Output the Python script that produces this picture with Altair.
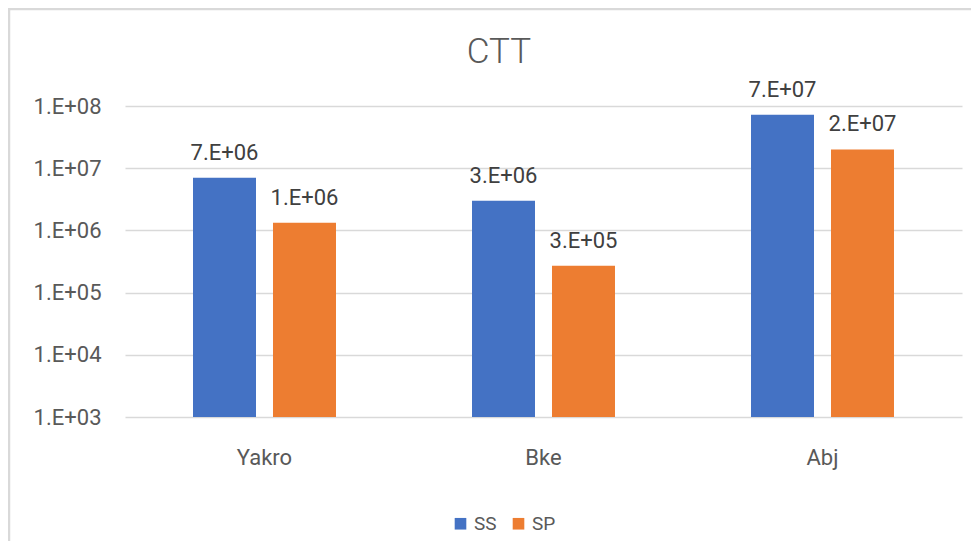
import altair as alt
import pandas as pd

sites = ["Yakro", "Bke", "Abj"]
series = ["SS", "SP"]
ss_values = [7.0e6, 3.0e6, 7.2e7]
sp_values = [1.33e6, 2.7e5, 2.0e7]
y_ticks = [1e3, 1e4, 1e5, 1e6, 1e7, 1e8]
colors = ["#4472C4", "#ED7D31"]

FONT = "Roboto, sans-serif"
TXT = "#595959"


def sci_label(v):
    m, e = f"{v:.0e}".split("e")
    return f"{m}.E{e[0]}{int(e[1:]):02d}"


rows = []
for i, s in enumerate(sites):
    for name, vals in zip(series, [ss_values, sp_values]):
        rows.append({"site": s, "series": name, "value": vals[i], "label": sci_label(vals[i])})
df = pd.DataFrame(rows)

x_enc = alt.X(
    "site:N",
    sort=sites,
    scale=alt.Scale(paddingInner=0.4875, paddingOuter=0.24375),
    axis=alt.Axis(
        title=None, labelAngle=0, ticks=False, tickSize=0, domain=False,
        labelPadding=47, labelBaseline="alphabetic", labelFontSize=22,
        labelColor=TXT, labelFont=FONT,
    ),
)
xo_enc = alt.XOffset("series:N", sort=series, scale=alt.Scale(paddingInner=0.2125, paddingOuter=0))
y_enc = alt.Y(
    "value:Q",
    scale=alt.Scale(type="log", domain=[1e3, 1e8], nice=False),
    axis=alt.Axis(
        title=None, grid=True, gridColor="#d9d9d9", gridWidth=1.5, domain=False,
        ticks=False, tickSize=0, labelPadding=24, values=y_ticks,
        labelExpr="'1.E+' + format(round(log(datum.value)/LN10), '02d')",
        labelFontSize=22, labelColor=TXT, labelFont=FONT,
    ),
)

base = alt.Chart(df)
bars = base.mark_bar().encode(
    x=x_enc,
    xOffset=xo_enc,
    y=y_enc,
    y2=alt.datum(1000),
    color=alt.Color(
        "series:N",
        sort=series,
        scale=alt.Scale(domain=series, range=colors),
        legend=alt.Legend(
            title=None, orient="none", legendX=326, legendY=408, direction="horizontal",
            symbolType="square", symbolSize=135, symbolStrokeWidth=0,
            labelFontSize=19, labelFont=FONT, labelColor=TXT, labelOffset=4,
            columnPadding=12, padding=0,
        ),
    ),
)
labels = base.mark_text(baseline="alphabetic", dy=-18, fontSize=22, color="#404040", font=FONT).encode(
    x=alt.X("site:N", sort=sites),
    xOffset=alt.XOffset("series:N", sort=series),
    y=alt.Y("value:Q"),
    text="label:N",
)

border = alt.Chart(pd.DataFrame({"a": [0]})).mark_rect(
    fillOpacity=0, stroke="#d9d9d9", strokeWidth=2.5
).encode(x=alt.value(-116), x2=alt.value(1000), y=alt.value(-97), y2=alt.value(700))

chart = alt.layer(border, bars, labels).properties(
    width=837,
    height=311,
    title=alt.Title(
        "CTT", fontSize=35, font=FONT, color=TXT, fontWeight=300,
        anchor="middle", frame="group", dx=-44.5, baseline="alphabetic", offset=-90,
    ),
    autosize=alt.AutoSizeParams(type="none"),
    padding={"left": 117, "top": 98, "right": 9, "bottom": 124},
).configure_view(strokeWidth=0)

chart.save("out.html", embed_options={"renderer": "svg", "actions": False})
